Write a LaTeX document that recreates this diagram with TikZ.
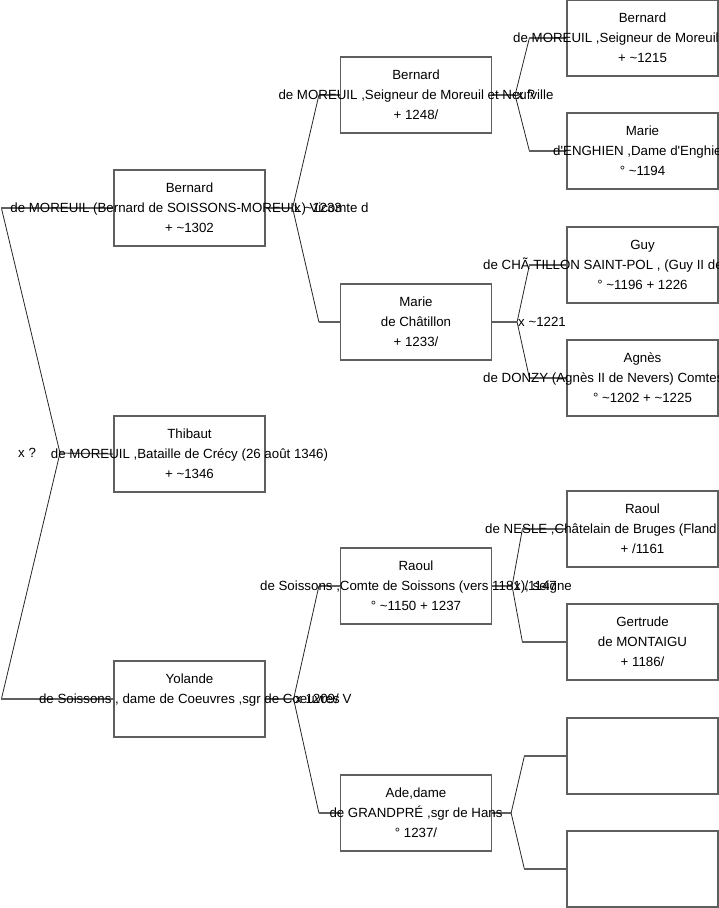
\documentclass[tikz,border=0pt]{standalone}
\usepackage{fontspec}
\setmainfont{Liberation Sans}
\definecolor{boxgray}{RGB}{95,95,95}

\begin{document}
\begin{tikzpicture}[x=1pt, y=-1pt,
  pbox/.style={draw=boxgray, line width=1.2pt, minimum width=151pt, minimum height=76pt, inner sep=0pt},
  nm/.style={font=\fontsize{13.3}{15}\selectfont, inner sep=0pt, anchor=base},
  lbl/.style={nm, anchor=base west},
  link/.style={draw=black!85, line width=0.8pt},
  stub/.style={draw=boxgray, line width=1.2pt}]
 \clip (0,0) rectangle (719,908);
 % person boxes
 \foreach \n/\x/\y in {b1/189.5/208, th/189.5/454, yo/189.5/699,
   b2/416/95, m2/416/322, r2/416/586, a2/416/813,
   b3/642.5/38, m3/642.5/151, g3/642.5/265, ag3/642.5/378,
   r3/642.5/529, ge3/642.5/642, e1/642.5/756, e2/642.5/869}
   \node[pbox] (\n) at (\x,\y) {};
 % forks child -> father / mother
 \foreach \c/\f/\m/\v/\e in {b1/b2/m2/27/21, yo/r2/a2/28/21, b2/b3/m3/23/37,
   m2/g3/ag3/25/37, r2/r3/ge3/20/44, a2/e1/e2/19/42}{
   \draw[stub] (\c.east) -- ++(\v,0) coordinate (v\c);
   \draw[link] ([xshift=-\e pt]\f.west) -- (v\c) -- ([xshift=-\e pt]\m.west);
   \draw[stub] ([xshift=-\e pt]\f.west) -- (\f.west);
   \draw[stub] ([xshift=-\e pt]\m.west) -- (\m.west);
 }
 % root fork
 \coordinate (rv) at (60,453);
 \draw[stub] (th.west) -- (rv);
 \draw[link] ([xshift=-112pt]b1.west) -- (rv) -- ([xshift=-112pt]yo.west);
 \draw[stub] ([xshift=-112pt]b1.west) -- (b1.west);
 \draw[stub] ([xshift=-112pt]yo.west) -- (yo.west);
 % first and third lines
 \foreach \n/\a/\c in {b1/Bernard/{+ \textasciitilde1302}, th/Thibaut/{+ \textasciitilde1346}, yo/Yolande/{},
   b2/Bernard/{+ 1248/}, m2/Marie/{+ 1233/}, r2/Raoul/{° \textasciitilde1150 + 1237}, a2/{Ade,dame}/{° 1237/},
   b3/Bernard/{+ \textasciitilde1215}, m3/Marie/{° \textasciitilde1194}, g3/Guy/{° \textasciitilde1196 + 1226},
   ag3/Agnès/{° \textasciitilde1202 + \textasciitilde1225}, r3/Raoul/{+ /1161}, ge3/Gertrude/{+ 1186/}}{
   \node[nm] at ([yshift=15.5pt]\n.center) {\a};
   \node[nm] at ([yshift=-24pt]\n.center) {\c};
 }
 % second lines
 \node[nm] at ([yshift=-4.5pt]b1.center) {de MOREUIL (Bernard de SOISSONS-MOREUIL) Vicomte d};
 \node[nm] at ([yshift=-4.5pt]th.center) {de MOREUIL ,Bataille de Crécy (26 août 1346)};
 \node[nm] at ([yshift=-4.5pt]yo.center) {de Soissons , dame de Coeuvres ,sgr de Coeuvres};
 \node[nm] at ([yshift=-4.5pt]b2.center) {de MOREUIL ,Seigneur de Moreuil et Neufville};
 \node[nm] at ([yshift=-4.5pt]m2.center) {de Châtillon};
 \node[nm] at ([yshift=-4.5pt]r2.center) {de Soissons ,Comte de Soissons (vers 1181), seigne};
 \node[nm] at ([yshift=-4.5pt]a2.center) {de GRANDPRÉ ,sgr de Hans};
 \node[nm] at ([yshift=-4.5pt]ge3.center) {de MONTAIGU};
 \node[lbl] at (513,42.5) {de MOREUIL ,Seigneur de Moreuil};
 \node[lbl] at (553,155.5) {d\textquotesingle ENGHIEN ,Dame d\textquotesingle Enghie};
 \node[lbl] at (483,269.5) {de CHÃ TILLON SAINT-POL , (Guy II de};
 \node[lbl] at (483,382.5) {de DONZY (Agnès II de Nevers) Comtes};
 \node[lbl] at (485,533.5) {de NESLE ,Châtelain de Bruges (Fland};
 % marriage labels
 \node[lbl] at (18,457) {x ?};
 \node[lbl] at (294,212.5) {x \textasciitilde1233};
 \node[lbl] at (295,703.5) {x 1209/ V};
 \node[lbl] at (517,99.5) {x ?};
 \node[lbl] at (518,326.5) {x \textasciitilde1221};
 \node[lbl] at (514,590.5) {x /1147};
\end{tikzpicture}
\end{document}
